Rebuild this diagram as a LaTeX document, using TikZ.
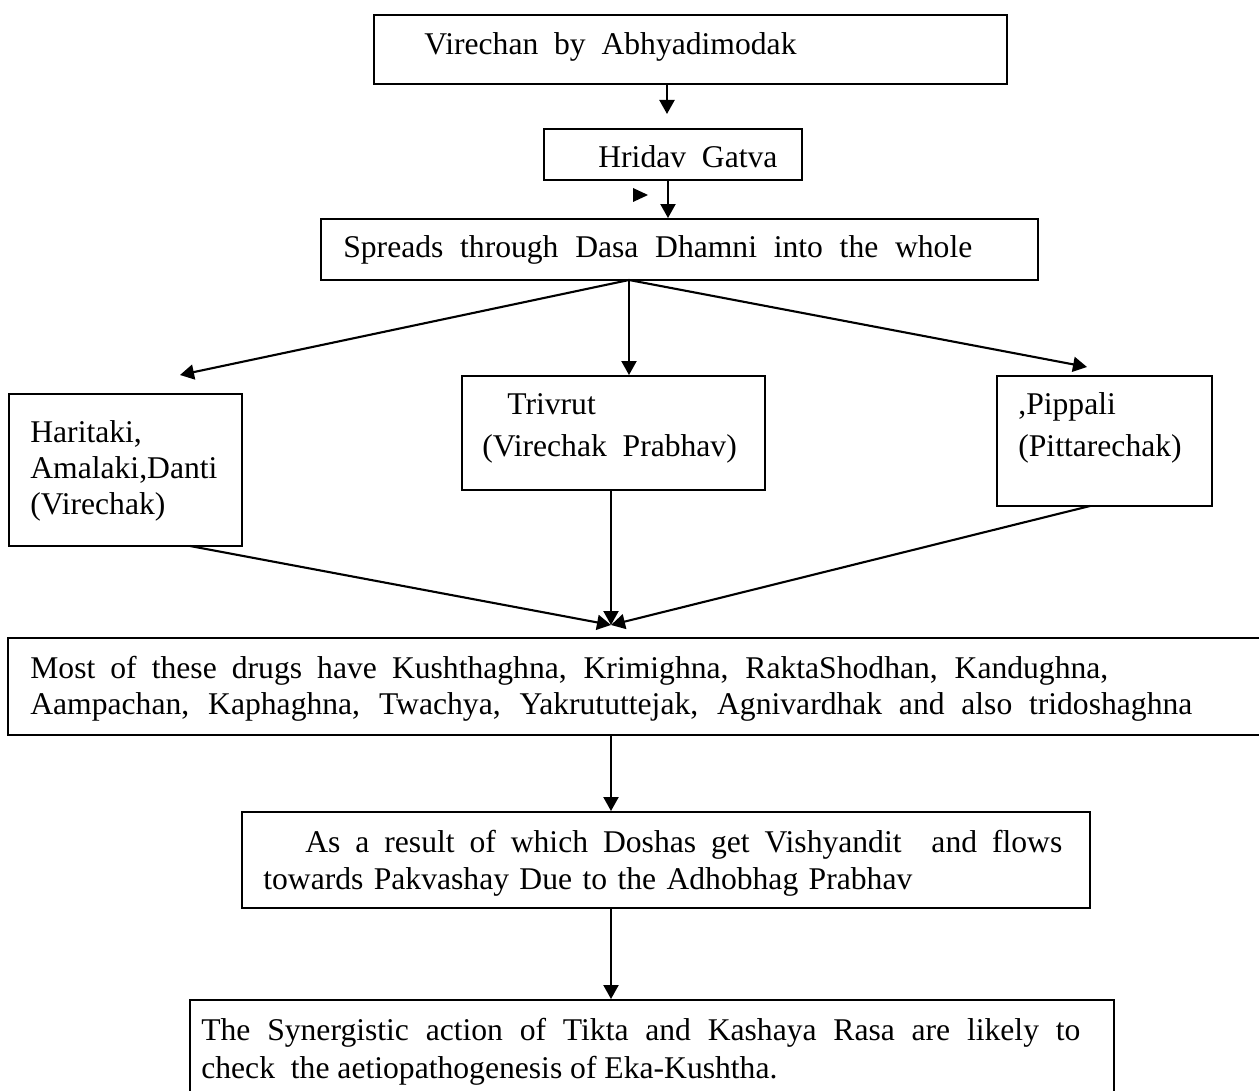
\documentclass[tikz,border=0pt]{standalone}
\usepackage{fontspec}
\setmainfont{Liberation Serif}
\usetikzlibrary{arrows.meta,fit}
\newlength\pxu
\setlength\pxu{0.02cm}
\tikzset{
  box/.style={draw,line width=1.1pt,inner sep=0pt},
  txt/.style={inner sep=0pt,anchor=base west,font=\fontsize{18}{21}\selectfont},
  arr/.style={line width=1.2pt,-{Triangle[length=0.28cm,width=0.3cm]}},
}
\begin{document}
\begin{tikzpicture}[x=0.02cm,y=-0.02cm]
                \useasboundingbox (0,0) rectangle (1259,1091);
                %% boxes
                \node[box,fit={(374,15) (1007,84)}] (vir) {};
                \node[box,fit={(544,129) (802,180)}] (hrid) {};
                \node[box,fit={(321,219) (1038,280)}] (spr) {};
                \node[box,fit={(9,394) (242,546)}] (hari) {};
                \node[box,fit={(462,376) (765,490)}] (tri) {};
                \node[box,fit={(997,376) (1212,506)}] (pip) {};
                \node[box,fit={(8,638) (1270,735)}] (most) {};
                \node[box,fit={(242,812) (1090,908)}] (res) {};
                \node[box,fit={(190,1000) (1114,1110)}] (syn) {};
                %% texts
                \node[txt] (vir1) at (424,55) {Virechan\ \ by\ \ Abhyadimodak};
                \node[txt] (hrid1) at (598,168) {Hridav\ \ Gatva};
                \node[txt] (spr1) at (343,258) {\makebox[629\pxu][s]{Spreads through Dasa Dhamni into the whole}};
                \node[txt] (hari1) at (30,443) {Haritaki,};
                \node[txt] (hari2) at (30,479) {Amalaki,Danti};
                \node[txt] (hari3) at (30,515) {(Virechak)};
                \node[txt] (tri1) at (507,415) {Trivrut};
                \node[txt] (tri2) at (482,457) {(Virechak\ \ Prabhav)};
                \node[txt] (pip1) at (1018,415) {,Pippali};
                \node[txt] (pip2) at (1018,457) {(Pittarechak)};
                \node[txt] (most1) at (30,678) {\makebox[1078\pxu][s]{Most of these drugs have Kushthaghna, Krimighna, RaktaShodhan, Kandughna,}};
                \node[txt] (most2) at (30,714) {\makebox[1162\pxu][s]{Aampachan, Kaphaghna, Twachya, Yakrututtejak, Agnivardhak and also tridoshaghna}};
                \node[txt] (res1) at (305,852) {\makebox[757\pxu][s]{As a result of which Doshas get Vishyandit \ and flows}};
                \node[txt] (res2) at (263,889) {\makebox[649\pxu][s]{towards Pakvashay Due to the Adhobhag Prabhav}};
                \node[txt] (syn1) at (201,1040) {\makebox[879\pxu][s]{The Synergistic action of Tikta and Kashaya Rasa are likely to}};
                \node[txt] (syn2) at (201,1078) {check\ \ the aetiopathogenesis of Eka-Kushtha.};
                %% arrows
                \coordinate (a1) at (667,114);
                \coordinate (a2) at (668,180);
                \coordinate (br) at (629,280);
                \coordinate (lt) at (180,375);
                \coordinate (rt) at (1087,367);
                \coordinate (mg) at (611,625);
                \coordinate (h0) at (190,546);
                \coordinate (p0) at (1090,506);
                \draw[arr] (vir.south -| a1) -- (a1);
                \draw[arr] (a2) -- (a2 |- spr.north);
                \fill (633,188) -- (633,202) -- (648,195) -- cycle;
                \draw[arr] (br) -- (lt);
                \draw[arr] (br) -- (br |- tri.north);
                \draw[arr] (br) -- (rt);
                \draw[arr] (h0) -- (mg);
                \draw[arr] (tri.south -| mg) -- (mg);
                \draw[arr] (p0) -- (mg);
                \draw[arr] (most.south -| mg) -- (mg |- res.north);
                \draw[arr] (res.south -| mg) -- (mg |- syn.north);
\end{tikzpicture}
\end{document}
